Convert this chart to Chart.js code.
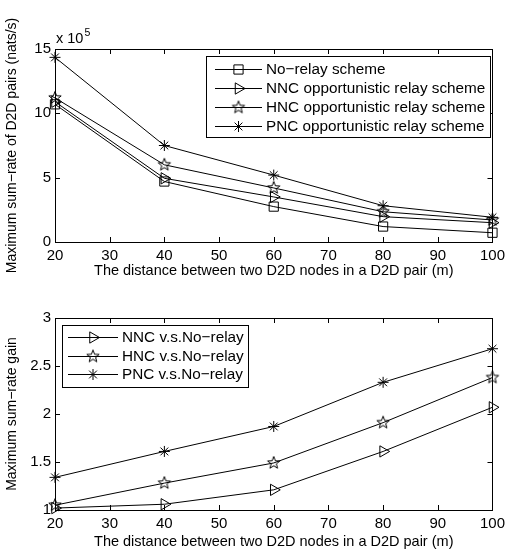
<!DOCTYPE html>
<html><head><meta charset="utf-8">
<script src="https://cdn.jsdelivr.net/npm/chart.js@4/dist/chart.umd.min.js"></script>
<style>
html,body{margin:0;padding:0;background:#fff;width:510px;height:554px;overflow:hidden}
canvas{position:absolute;left:0}
#c1{top:0}
#c2{top:280px}
</style></head><body>
<canvas id="c1" width="510" height="280" style="width:510px;height:280px"></canvas>
<canvas id="c2" width="510" height="274" style="width:510px;height:274px"></canvas>
<script>
// ---- data ----
const distances = [20, 40, 60, 80, 100];
const noRelayRate = [10.7, 4.7, 2.75, 1.2, 0.72];
const nncRate = [10.9, 4.95, 3.5, 1.97, 1.5];
const hncRate = [11.2, 6.0, 4.2, 2.35, 1.71];
const pncRate = [14.35, 7.5, 5.2, 2.82, 1.92];
const nncGain = [1.02, 1.06, 1.21, 1.61, 2.07];
const hncGain = [1.05, 1.28, 1.49, 1.91, 2.38];
const pncGain = [1.34, 1.61, 1.87, 2.33, 2.68];
const xTicks = [20, 30, 40, 50, 60, 70, 80, 90, 100];
const rateTicks = [0, 5, 10, 15];
const gainTicks = [1, 1.5, 2, 2.5, 3];
const rateLabels = ['No\u2212relay scheme', 'NNC opportunistic relay scheme', 'HNC opportunistic relay scheme', 'PNC opportunistic relay scheme'];
const gainLabels = ['NNC v.s.No\u2212relay', 'HNC v.s.No\u2212relay', 'PNC v.s.No\u2212relay'];
const xTitle = 'The distance between two D2D nodes in a D2D pair (m)';
const rateTitle = 'Maximum sum\u2212rate of D2D pairs (nats/s)';
const gainTitle = 'Maximum sum\u2212rate gain';

const FONT = "'Liberation Sans', Arial, Helvetica, sans-serif";

function makePentagram(r) {
  const s = Math.ceil(r * 2 + 3);
  const c = document.createElement('canvas');
  c.width = s; c.height = s;
  const g = c.getContext('2d');
  g.strokeStyle = '#000'; g.lineWidth = 1;
  g.beginPath();
  const inner = r * 0.42;
  for (let i = 0; i < 10; i++) {
    const rr = i % 2 === 0 ? r : inner;
    const a = -Math.PI / 2 + i * Math.PI / 5;
    const x = s / 2 + rr * Math.cos(a), y = s / 2 + rr * Math.sin(a);
    if (i === 0) g.moveTo(x, y); else g.lineTo(x, y);
  }
  g.closePath(); g.stroke();
  return c;
}
const penta = makePentagram(6.5);

const STYLES = {
  square: {pointStyle: 'rect', pointRadius: 6.5, pointRotation: 0},
  tri: {pointStyle: 'triangle', pointRadius: 6.5, pointRotation: 90},
  penta: {pointStyle: penta, pointRadius: 6.5, pointRotation: 0},
  ast: {pointStyle: 'star', pointRadius: 5.5, pointRotation: 0}
};

function ds(label, vals, st) {
  const s = STYLES[st];
  return {
    label, data: distances.map((d, i) => ({x: d, y: vals[i]})),
    borderColor: '#000', borderWidth: 1, backgroundColor: 'rgba(0,0,0,0)',
    pointBackgroundColor: 'rgba(0,0,0,0)', pointBorderColor: '#000', pointBorderWidth: 1,
    pointStyle: s.pointStyle, pointRadius: s.pointRadius, pointRotation: s.pointRotation,
    pointHoverRadius: s.pointRadius, tension: 0, clip: false, _mk: st
  };
}

function drawLegendMarker(ctx, st, x, y) {
  ctx.save();
  ctx.strokeStyle = '#000'; ctx.lineWidth = 1;
  ctx.beginPath();
  if (st === 'square') {
    const h = 6.5 * Math.SQRT1_2;
    ctx.rect(x - h, y - h, 2 * h, 2 * h); ctx.stroke();
  } else if (st === 'tri') {
    const r = 6.5;
    ctx.moveTo(x + r, y);
    ctx.lineTo(x - r / 2, y - r * Math.sqrt(3) / 2);
    ctx.lineTo(x - r / 2, y + r * Math.sqrt(3) / 2);
    ctx.closePath(); ctx.stroke();
  } else if (st === 'penta') {
    ctx.drawImage(penta, x - penta.width / 2, y - penta.height / 2);
  } else {
    const r = 5.5, d = r * Math.SQRT1_2;
    ctx.moveTo(x - r, y); ctx.lineTo(x + r, y);
    ctx.moveTo(x, y - r); ctx.lineTo(x, y + r);
    ctx.moveTo(x - d, y - d); ctx.lineTo(x + d, y + d);
    ctx.moveTo(x - d, y + d); ctx.lineTo(x + d, y - d);
    ctx.stroke();
  }
  ctx.restore();
}

const framePlugin = {
  id: 'frame',
  afterDatasetsDraw(chart, args, opts) {
    const ctx = chart.ctx, a = chart.chartArea;
    const xs = chart.scales.x, ys = chart.scales.y;
    ctx.save();
    ctx.strokeStyle = '#000'; ctx.lineWidth = 1;
    ctx.strokeRect(Math.round(a.left) + 0.5, Math.round(a.top) + 0.5, Math.round(a.right - a.left), Math.round(a.bottom - a.top));
    ctx.beginPath();
    const tl = 5;
    xs.ticks.forEach(t => {
      const px = Math.round(xs.getPixelForValue(t.value)) + 0.5;
      ctx.moveTo(px, a.bottom); ctx.lineTo(px, a.bottom - tl);
      ctx.moveTo(px, a.top); ctx.lineTo(px, a.top + tl);
    });
    ys.ticks.forEach(t => {
      const py = Math.round(ys.getPixelForValue(t.value)) + 0.5;
      ctx.moveTo(a.left, py); ctx.lineTo(a.left + tl, py);
      ctx.moveTo(a.right, py); ctx.lineTo(a.right - tl, py);
    });
    ctx.stroke();
    // legend
    const L = opts.legend;
    if (L) {
      ctx.fillStyle = '#fff';
      ctx.fillRect(L.x, L.y, L.w, L.h);
      ctx.strokeRect(L.x + 0.5, L.y + 0.5, L.w, L.h);
      ctx.font = L.font;
      ctx.textBaseline = 'middle'; ctx.textAlign = 'left';
      chart.data.datasets.forEach((d, i) => {
        const y = Math.round(L.y + L.first + i * L.step) + 0.5;
        ctx.beginPath();
        ctx.moveTo(L.x + L.l1, y); ctx.lineTo(L.x + L.l2, y); ctx.stroke();
        drawLegendMarker(ctx, d._mk, L.x + (L.l1 + L.l2) / 2, y);
        ctx.fillStyle = '#000';
        ctx.fillText(d.label, L.x + L.tx, y);
      });
    }
    if (opts.exponent) {
      ctx.fillStyle = '#000';
      ctx.textBaseline = 'alphabetic'; ctx.textAlign = 'left';
      ctx.font = '14.5px ' + FONT;
      ctx.fillText('x 10', a.left + 1, a.top - 6);
      const w = ctx.measureText('x 10').width;
      ctx.font = '10.5px ' + FONT;
      ctx.fillText('5', a.left + 1 + w + 1, a.top - 13);
    }
    ctx.restore();
  }
};

function makeChart(id, datasets, yMin, yMax, yTicks, yTitle, layoutPad, xAxisH, titlePadBottom, legend, exponent) {
  return new Chart(document.getElementById(id), {
    type: 'line',
    data: {datasets},
    plugins: [framePlugin],
    options: {
      responsive: false, animation: false, devicePixelRatio: 1,
      layout: {padding: layoutPad},
      plugins: {legend: {display: false}, tooltip: {enabled: false}, frame: {legend, exponent}},
      scales: {
        x: {
          type: 'linear', min: 20, max: 100,
          grid: {display: false, drawTicks: false}, border: {display: false},
          afterBuildTicks: s => { s.ticks = xTicks.map(v => ({value: v})); },
          afterFit: s => { s.height = xAxisH; },
          ticks: {color: '#000', font: {family: FONT, size: 15}, padding: 5, maxRotation: 0, autoSkip: false, callback: v => String(v)},
          title: {display: true, text: xTitle, color: '#000', font: {family: FONT, size: 14.5}, padding: {top: 0, bottom: titlePadBottom}}
        },
        y: {
          type: 'linear', min: yMin, max: yMax,
          grid: {display: false, drawTicks: false}, border: {display: false},
          afterBuildTicks: s => { s.ticks = yTicks.map(v => ({value: v})); },
          afterFit: s => { s.width = 55; },
          ticks: {color: '#000', font: {family: FONT, size: 15}, padding: 4, callback: v => String(v)},
          title: {display: true, text: yTitle, color: '#000', font: {family: FONT, size: 14}, padding: {top: 4, bottom: 0}}
        }
      }
    }
  });
}

makeChart('c1', [
  ds(rateLabels[0], noRelayRate, 'square'),
  ds(rateLabels[1], nncRate, 'tri'),
  ds(rateLabels[2], hncRate, 'penta'),
  ds(rateLabels[3], pncRate, 'ast')
], 0, 15, rateTicks, rateTitle, {top: 49, right: 12, left: 0, bottom: 0}, 38, 0,
  {x: 206, y: 56, w: 284, h: 81, first: 13, step: 19, l1: 9, l2: 56, tx: 60, font: '15.3px ' + FONT}, true);

makeChart('c2', [
  ds(gainLabels[0], nncGain, 'tri'),
  ds(gainLabels[1], hncGain, 'penta'),
  ds(gainLabels[2], pncGain, 'ast')
], 1, 3, gainTicks, gainTitle, {top: 38, right: 12, left: 0, bottom: 0}, 44, 3,
  {x: 62, y: 45, w: 186, h: 62, first: 12, step: 18.5, l1: 6, l2: 56, tx: 60, font: '15.3px ' + FONT}, false);
</script>
</body></html>
